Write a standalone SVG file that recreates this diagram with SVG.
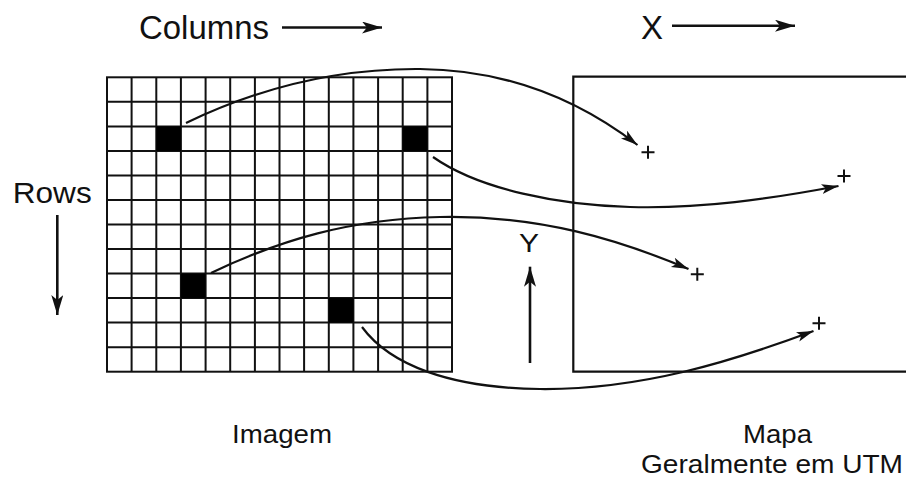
<svg xmlns="http://www.w3.org/2000/svg" width="906" height="479" viewBox="0 0 906 479">
  <defs>
    <style>
      .lbl { font-family: "Liberation Sans", Arial, sans-serif; fill: #111; }
      .grid { fill: none; stroke: #111; stroke-width: 2; }
      .cell { fill: #000; }
      .frame { fill: none; stroke: #111; stroke-width: 2.2; }
      .conn { fill: none; stroke: #111; stroke-width: 2.2; }
      .axis { fill: none; stroke: #111; stroke-width: 2.6; }
      .plus { fill: none; stroke: #111; stroke-width: 2; }
    </style>
    <marker id="ah" markerUnits="userSpaceOnUse" markerWidth="20" markerHeight="12" refX="17" refY="5" orient="auto">
      <path d="M0,0 L17,5 L0,10 L4,5 z" fill="#111"/>
    </marker>
    <marker id="ahAxis" markerUnits="userSpaceOnUse" markerWidth="22" markerHeight="14" refX="20" refY="6" orient="auto">
      <path d="M0,0 L20,6 L0,12 L5,6 z" fill="#111"/>
    </marker>
  </defs>
  <rect width="906" height="479" fill="#fff"/>

  <g id="image-grid">
    <rect x="107" y="77.3" width="345" height="294.4" class="grid"/>
    <path class="grid" d="M131.6,77.3V371.7M156.3,77.3V371.7M180.9,77.3V371.7M205.6,77.3V371.7M230.2,77.3V371.7M254.9,77.3V371.7M279.5,77.3V371.7M304.1,77.3V371.7M328.8,77.3V371.7M353.4,77.3V371.7M378.1,77.3V371.7M402.7,77.3V371.7M427.4,77.3V371.7"/>
    <path class="grid" d="M107,101.8H452M107,126.4H452M107,150.9H452M107,175.4H452M107,200H452M107,224.5H452M107,249H452M107,273.6H452M107,298.1H452M107,322.6H452M107,347.2H452"/>
    <rect class="cell" x="156.3" y="126.4" width="24.6" height="24.5"/>
    <rect class="cell" x="402.7" y="126.4" width="24.6" height="24.5"/>
    <rect class="cell" x="180.9" y="273.6" width="24.6" height="24.5"/>
    <rect class="cell" x="328.8" y="298.1" width="24.6" height="24.5"/>
  </g>

  <g id="map">
    <path class="frame" d="M910,76.7H573.3V371.7H910"/>
    <path class="plus" d="M641.5,152.3h13M648,145.8v13"/>
    <path class="plus" d="M837.5,176h13M844,169.5v13"/>
    <path class="plus" d="M690.8,274.3h13M697.3,267.8v13"/>
    <path class="plus" d="M812.5,323.3h13M819,316.8v13"/>
  </g>

  <g id="connectors">
    <path class="conn" marker-end="url(#ah)" d="M186,123 Q300,68 420,69 Q540,70 637.5,145"/>
    <path class="conn" marker-end="url(#ah)" d="M433,157 C480,190 560,205 630,207 C700,209 770,199 838.5,186"/>
    <path class="conn" marker-end="url(#ah)" d="M211,273 C280,240 350,219 440,217 C540,215 620,240 688.5,269"/>
    <path class="conn" marker-end="url(#ah)" d="M362,327 C390,365 450,388 540,389 C640,390 730,362 813.5,331"/>
  </g>

  <g id="axis-columns">
    <text class="lbl" x="139" y="39" font-size="34" textLength="130" lengthAdjust="spacingAndGlyphs">Columns</text>
    <line class="axis" x1="282" y1="27.5" x2="382" y2="27.5" marker-end="url(#ahAxis)"/>
  </g>
  <g id="axis-x">
    <text class="lbl" x="641" y="39" font-size="34" textLength="22" lengthAdjust="spacingAndGlyphs">X</text>
    <line class="axis" x1="672" y1="25.7" x2="795" y2="25.7" marker-end="url(#ahAxis)"/>
  </g>
  <g id="axis-rows">
    <text class="lbl" x="12.7" y="203" font-size="30" textLength="79" lengthAdjust="spacingAndGlyphs">Rows</text>
    <line class="axis" x1="57.3" y1="215" x2="57.3" y2="315" marker-end="url(#ahAxis)"/>
  </g>
  <g id="axis-y">
    <text class="lbl" x="519" y="252" font-size="26" textLength="20" lengthAdjust="spacingAndGlyphs">Y</text>
    <line class="axis" x1="530" y1="363" x2="530" y2="266.7" marker-end="url(#ahAxis)"/>
  </g>

  <g id="label-imagem">
    <text class="lbl" x="232" y="443" font-size="26" textLength="100" lengthAdjust="spacingAndGlyphs">Imagem</text>
  </g>
  <g id="label-mapa">
    <text class="lbl" x="743" y="443" font-size="26" textLength="69" lengthAdjust="spacingAndGlyphs">Mapa</text>
    <text class="lbl" x="641" y="473" font-size="25" textLength="262" lengthAdjust="spacingAndGlyphs">Geralmente em UTM</text>
  </g>
</svg>
